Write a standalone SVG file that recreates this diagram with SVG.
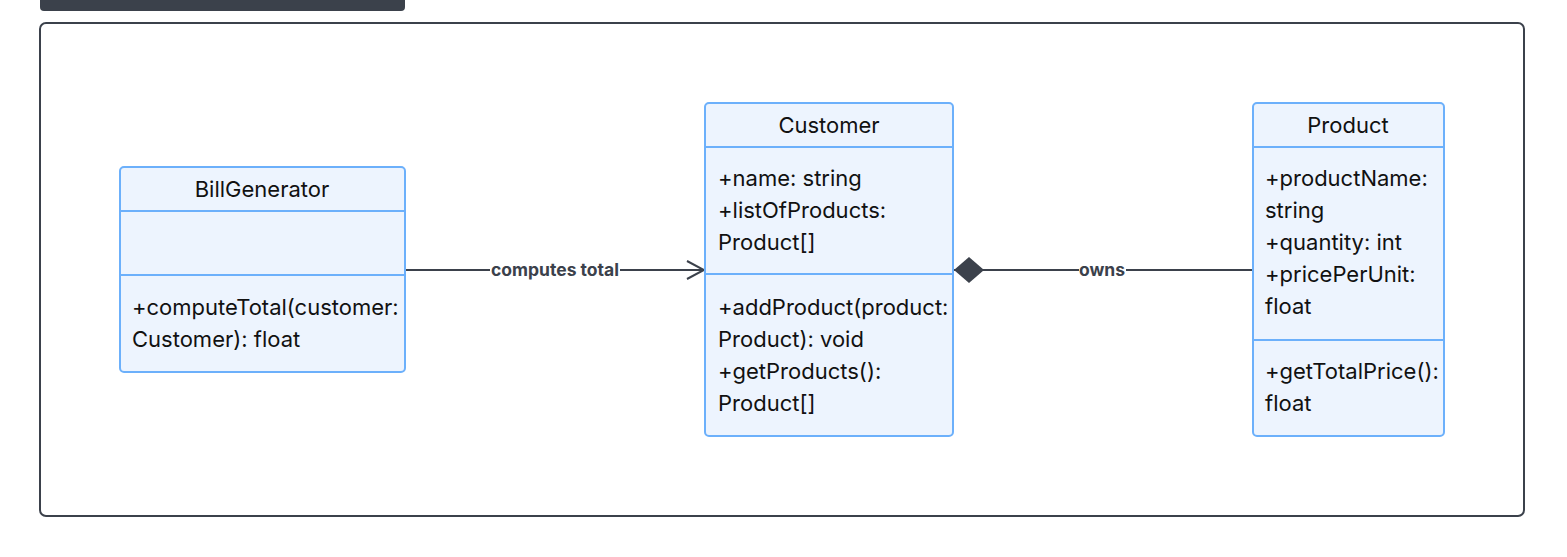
<svg xmlns="http://www.w3.org/2000/svg" width="1567" height="557" viewBox="0 0 1567 557">
<style>
.box{fill:#edf4fe;stroke:#6cb0fb;stroke-width:2}
.div{stroke:#6cb0fb;stroke-width:2}
.t{font-family:Inter,"Open Sans",sans-serif;font-size:22px;fill:#111}
.c{text-anchor:middle}
.edge{stroke:#3b414b;stroke-width:2;fill:none}
.lbl{font-family:Inter,"Open Sans",sans-serif;font-size:17.5px;font-weight:bold;fill:#3b414b;text-anchor:middle}
</style>
<defs>
<marker id="open" markerWidth="20" markerHeight="20" refX="18" refY="10" orient="auto" markerUnits="userSpaceOnUse">
<path d="M1,1 L18,10 L1,19" fill="none" stroke="#3b414b" stroke-width="2"/>
</marker>
<marker id="diamond" markerWidth="34" markerHeight="28" refX="1" refY="14" orient="auto" markerUnits="userSpaceOnUse">
<path d="M1,14 L16,1 L31,14 L16,27 Z" fill="#3b414b"/>
</marker>
</defs>
<rect width="1567" height="557" fill="#ffffff"/>
<rect x="40" y="-10" width="365" height="21" rx="4" fill="#3b414b"/>
<rect x="40" y="23" width="1484" height="493" rx="6" fill="none" stroke="#3b414b" stroke-width="2"/>
<g id="connectors">
<line class="edge" x1="405" y1="270" x2="704" y2="270" marker-end="url(#open)"/>
<rect x="490" y="260" width="130" height="20" fill="#ffffff"/>
<text class="lbl" x="555" y="276">computes total</text>
<line class="edge" x1="954" y1="270" x2="1253" y2="270" marker-start="url(#diamond)"/>
<rect x="1079" y="260" width="47" height="20" fill="#ffffff"/>
<text class="lbl" x="1102" y="276">owns</text>
</g>
<g id="BillGenerator">
<rect class="box" x="120" y="167" width="285" height="205" rx="4"/>
<line class="div" x1="120" y1="211" x2="405" y2="211"/>
<line class="div" x1="120" y1="275" x2="405" y2="275"/>
<text class="t c" x="262" y="197">BillGenerator</text>
<text class="t" x="132" y="315">+computeTotal(customer:</text>
<text class="t" x="132" y="347">Customer): float</text>
</g>
<g id="Customer">
<rect class="box" x="705" y="103" width="248" height="333" rx="4"/>
<line class="div" x1="705" y1="147" x2="953" y2="147"/>
<line class="div" x1="705" y1="274" x2="953" y2="274"/>
<text class="t c" x="829" y="133">Customer</text>
<text class="t" x="718" y="186">+name: string</text>
<text class="t" x="718" y="218">+listOfProducts:</text>
<text class="t" x="718" y="250">Product[]</text>
<text class="t" x="718" y="315">+addProduct(product:</text>
<text class="t" x="718" y="347">Product): void</text>
<text class="t" x="718" y="379">+getProducts():</text>
<text class="t" x="718" y="411">Product[]</text>
</g>
<g id="Product">
<rect class="box" x="1253" y="103" width="191" height="333" rx="4"/>
<line class="div" x1="1253" y1="147" x2="1444" y2="147"/>
<line class="div" x1="1253" y1="340" x2="1444" y2="340"/>
<text class="t c" x="1348" y="133">Product</text>
<text class="t" x="1265" y="186">+productName:</text>
<text class="t" x="1265" y="218">string</text>
<text class="t" x="1265" y="250">+quantity: int</text>
<text class="t" x="1265" y="282">+pricePerUnit:</text>
<text class="t" x="1265" y="314">float</text>
<text class="t" x="1265" y="379">+getTotalPrice():</text>
<text class="t" x="1265" y="411">float</text>
</g>
</svg>
